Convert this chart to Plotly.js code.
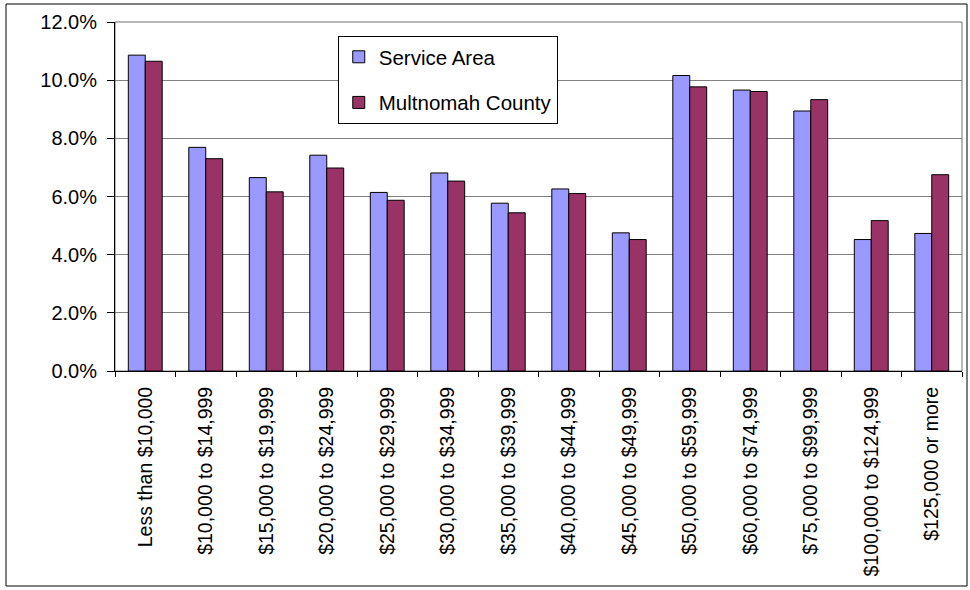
<!DOCTYPE html>
<html>
<head>
<meta charset="utf-8">
<script src="https://cdn.plot.ly/plotly-3.0.1.min.js"></script>
<style>
  html, body { margin: 0; padding: 0; background: #fff; }
  #chart { width: 970px; height: 590px; }
</style>
</head>
<body>
<div id="chart"></div>
<script>
const categories = [
  "Less than $10,000", "$10,000 to $14,999", "$15,000 to $19,999", "$20,000 to $24,999",
  "$25,000 to $29,999", "$30,000 to $34,999", "$35,000 to $39,999", "$40,000 to $44,999",
  "$45,000 to $49,999", "$50,000 to $59,999", "$60,000 to $74,999", "$75,000 to $99,999",
  "$100,000 to $124,999", "$125,000 or more"
];
const serviceArea = [0.1086, 0.0769, 0.0665, 0.0742, 0.0614, 0.0681, 0.0577, 0.0626,
                     0.0475, 0.1016, 0.0966, 0.0894, 0.0452, 0.0473];
const multnomah = [0.1065, 0.0730, 0.0616, 0.0698, 0.0587, 0.0653, 0.0544, 0.0610,
                   0.0452, 0.0977, 0.0961, 0.0933, 0.0517, 0.0675];
const seriesNames = ["Service Area", "Multnomah County"];
const yTickVals = [0, 0.02, 0.04, 0.06, 0.08, 0.10, 0.12];

const font = "Liberation Sans, Arial, sans-serif";

const traces = [
  {
    type: "bar", name: seriesNames[0], x: categories, y: serviceArea, legendgroup: "a",
    marker: { color: "#9999FF", line: { color: "#000000", width: 1 } }
  },
  {
    type: "bar", name: seriesNames[1], x: categories, y: multnomah, legendgroup: "b",
    marker: { color: "#993366", line: { color: "#000000", width: 1 } }
  }
];

const layout = {
  width: 970, height: 590,
  margin: { l: 115, r: 8, t: 22, b: 219 },
  paper_bgcolor: "#ffffff", plot_bgcolor: "#ffffff",
  font: { family: font, color: "#000000", size: 20 },
  barmode: "group", bargap: 0.44, bargroupgap: 0,
  showlegend: true,
  legend: {
    x: 0.263, y: 0.96, xanchor: "left", yanchor: "top",
    bordercolor: "#000000", borderwidth: 1, bgcolor: "#ffffff",
    font: { family: font, size: 20.5, color: "#000000" },
    traceorder: "grouped", tracegroupgap: 16,
    entrywidth: 210, entrywidthmode: "pixels"
  },
  xaxis: {
    type: "category", tickangle: -90, tickson: "boundaries",
    ticks: "outside", ticklen: 5, tickcolor: "#000000",
    showline: true, linecolor: "#000000", linewidth: 1,
    showgrid: false, zeroline: false,
    tickfont: { family: font, size: 19.5, color: "#000000" },
    ticklabelstandoff: 7
  },
  yaxis: {
    range: [0, 0.12], tickvals: yTickVals, tickformat: ".1%",
    ticks: "outside", ticklen: 7, tickcolor: "#000000",
    showline: true, linecolor: "#000000", linewidth: 1,
    showgrid: true, gridcolor: "#808080", gridwidth: 1, zeroline: false,
    tickfont: { family: font, size: 20, color: "#000000" },
    ticklabelstandoff: 6
  },
  shapes: [
    { type: "rect", xref: "paper", yref: "paper", x0: 0, x1: 1, y0: 0, y1: 1,
      line: { color: "#707070", width: 1 }, layer: "below" },
    { type: "rect", xref: "paper", yref: "paper",
      x0: (6 - 115) / 847, x1: (967 - 115) / 847, y0: (371 - 586) / 349, y1: (371 - 4) / 349,
      line: { color: "#000000", width: 1 }, layer: "below" }
  ]
};

Plotly.newPlot("chart", traces, layout, { staticPlot: true, displayModeBar: false });
</script>
</body>
</html>
